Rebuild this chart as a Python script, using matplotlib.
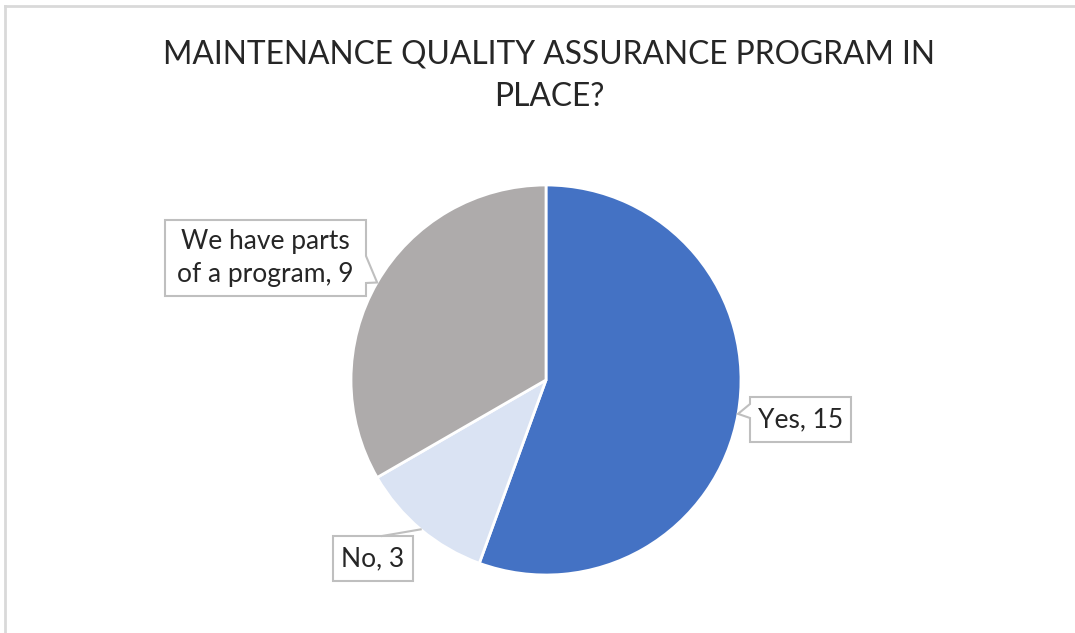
import numpy as np
import matplotlib
matplotlib.use("Agg")
from matplotlib import pyplot as plt
from matplotlib.patches import Polygon
from matplotlib.lines import Line2D

title = "MAINTENANCE QUALITY ASSURANCE PROGRAM IN\nPLACE?"
categories = ["Yes", "No", "We have parts\nof a program"]
values = [15, 3, 9]
colors = ["#4472C4", "#DAE3F3", "#AEABAB"]

plt.rcParams['font.family'] = ['Lato', 'DejaVu Sans']

W, H = 1075, 633
fig = plt.figure(figsize=(W / 100, H / 100), dpi=100)

# pie centre (546, 380) px, radius 195 px
cx, cy, r = 546, 380, 195
ax = fig.add_axes([(cx - r) / W, (H - cy - r) / H, 2 * r / W, 2 * r / H])
ax.pie(values, colors=colors, startangle=90, counterclock=False, radius=1,
       wedgeprops=dict(edgecolor="white", linewidth=2))
ax.set_xlim(-1, 1)
ax.set_ylim(-1, 1)
ax.set_aspect("equal")
ax.axis("off")

fig.text(549 / W, 1 - 76 / H, title, ha="center", va="center", fontsize=22.9,
         color="#262626", linespacing=1.54)

# frame
frame = dict(color="#D9D9D9", lw=2, transform=fig.transFigure)
fig.add_artist(Line2D([5 / W, 1], [1 - 6 / H, 1 - 6 / H], **frame))
fig.add_artist(Line2D([5 / W, 5 / W], [1 - 6 / H, 0], **frame))

# tips: middle of each wedge on the rim
fracs = np.array(values) / sum(values)
ends = 90 - 360 * np.cumsum(fracs)
mids = ends + 180 * fracs
tips = [(np.cos(np.radians(a)), np.sin(np.radians(a))) for a in mids]


def px(x, y):
    return ((x - cx) / r, (cy - y) / r)


box_style = dict(facecolor="white", edgecolor="#BFBFBF", lw=1.5, clip_on=False, zorder=5)
txt_style = dict(ha="center", va="center", fontsize=19, color="#262626", zorder=6,
                 linespacing=1.44)
labels = [f"{c}, {v}" for c, v in zip(categories, values)]

# Yes: pointer on left edge
x0, y0 = px(750, 397)
x1, y1 = px(851, 442)
_, b0 = px(0, 404)
_, b1 = px(0, 418)
ax.add_patch(Polygon([(x0, y0), (x1, y0), (x1, y1), (x0, y1), (x0, b1), tips[0], (x0, b0)],
                     **box_style))
ax.text((x0 + x1) / 2, (y0 + y1) / 2, labels[0], **txt_style)

# No: leader line from top edge
x0, y0 = px(333, 536)
x1, y1 = px(413, 581)
ax.add_patch(Polygon([(x0, y0), (x1, y0), (x1, y1), (x0, y1)], **box_style))
lx, _ = px(382, 0)
ax.add_artist(Line2D([lx, tips[1][0]], [y0, tips[1][1]], color="#BFBFBF", lw=1.5,
                     clip_on=False, zorder=5))
ax.text((x0 + x1) / 2, (y0 + y1) / 2, labels[1], **txt_style)

# parts: pointer on right edge
x0, y0 = px(165, 220)
x1, y1 = px(366, 296)
_, b0 = px(0, 256)
_, b1 = px(0, 283)
ax.add_patch(Polygon([(x0, y0), (x1, y0), (x1, b0), tips[2], (x1, b1), (x1, y1), (x0, y1)],
                     **box_style))
ax.text((x0 + x1) / 2, (y0 + y1) / 2, labels[2], **txt_style)

fig.savefig("out.png", dpi=100, facecolor="white")
